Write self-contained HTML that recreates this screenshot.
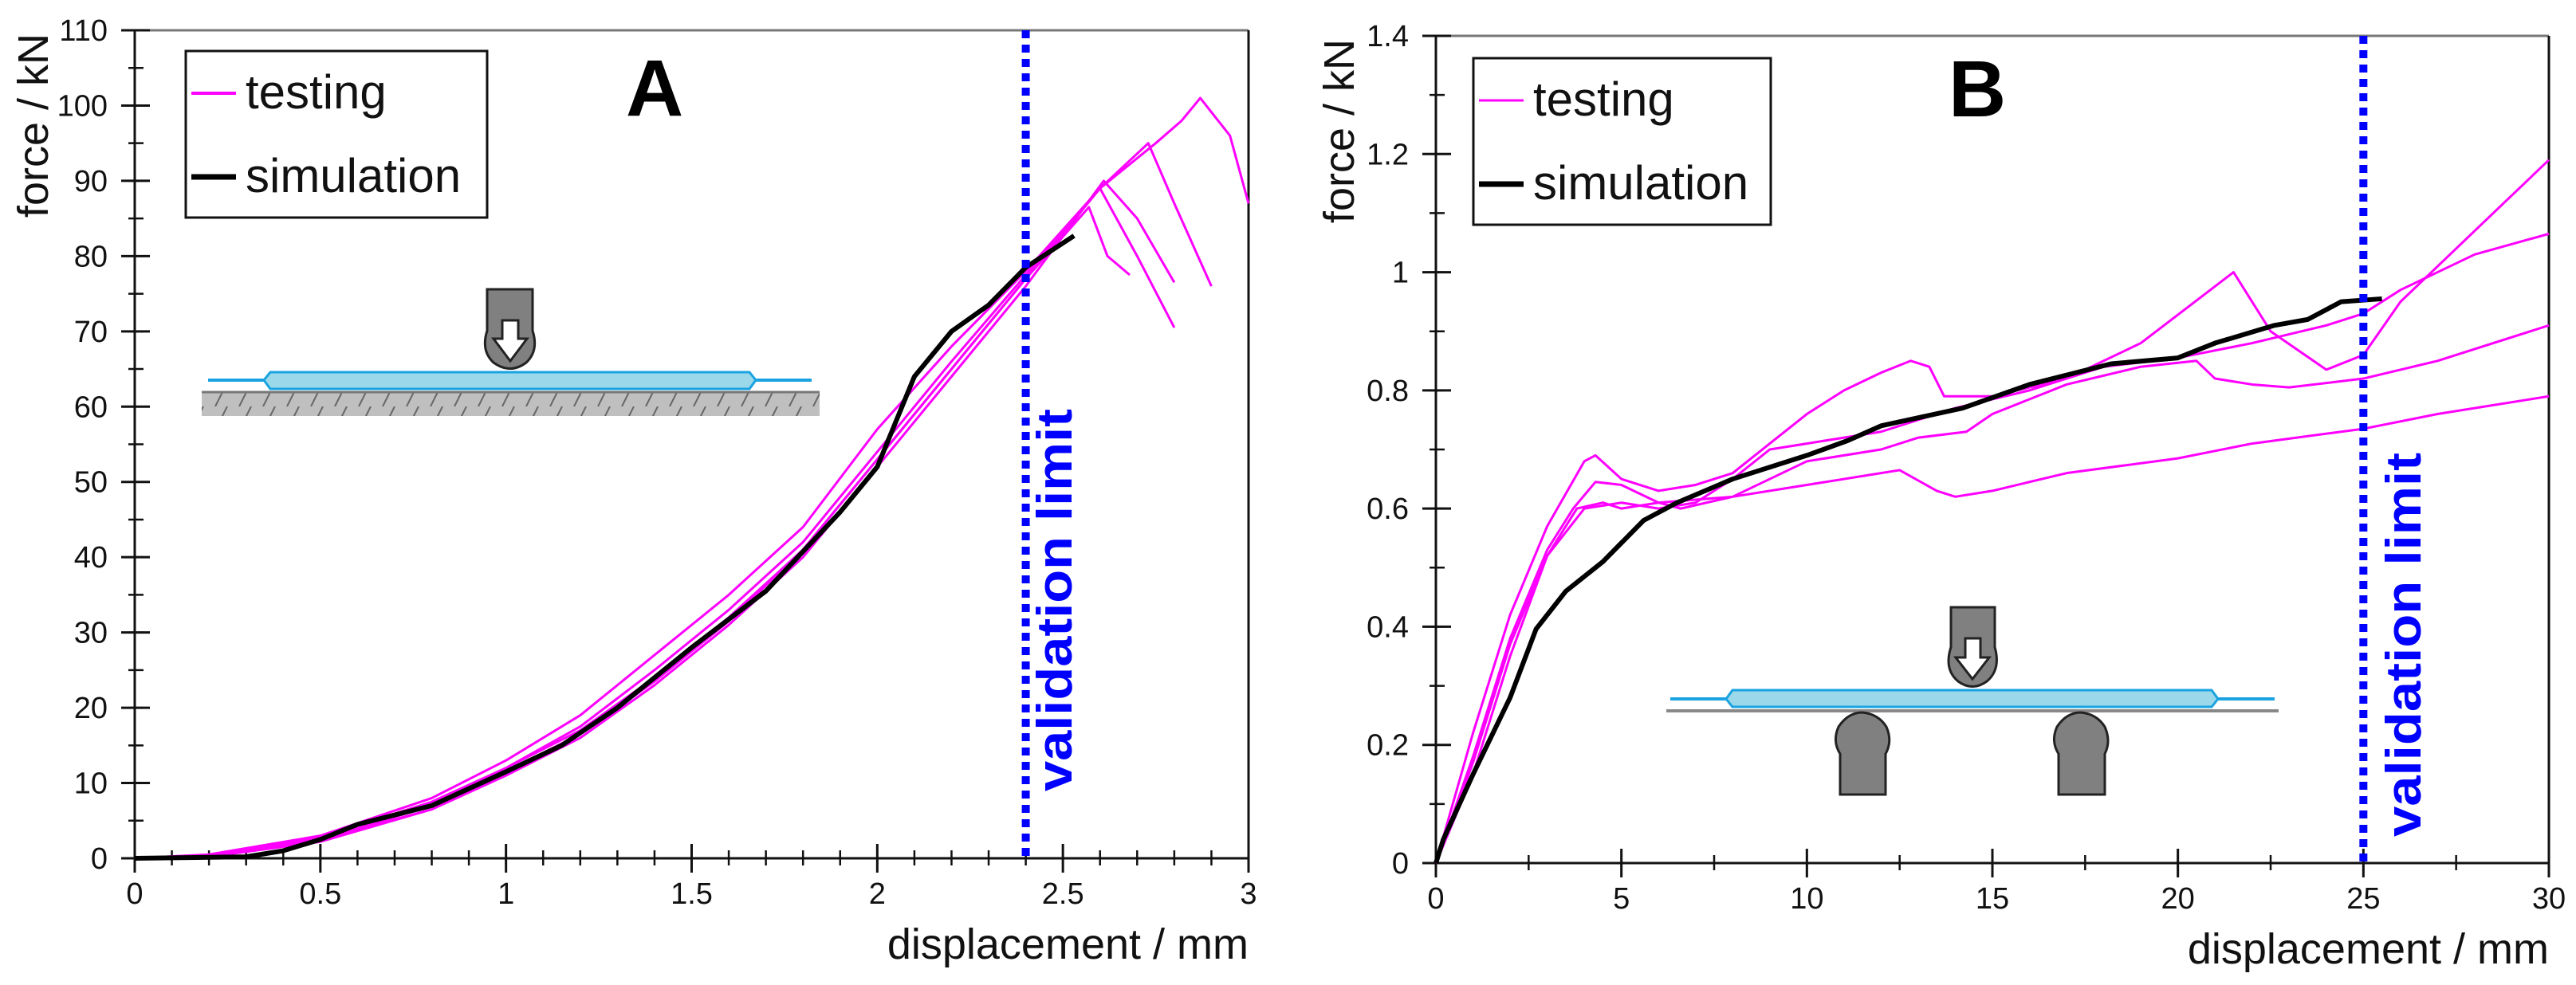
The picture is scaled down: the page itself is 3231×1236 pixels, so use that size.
<!DOCTYPE html>
<html><head><meta charset="utf-8">
<style>
html,body{margin:0;padding:0;background:#fff;}
svg{display:block;font-family:"Liberation Sans",Arial,sans-serif;}
</style></head>
<body>
<svg id="chart" width="3231" height="1236" viewBox="0 0 3231 1236" xmlns="http://www.w3.org/2000/svg">
<defs>
<pattern id="hatch" width="30" height="30" patternUnits="userSpaceOnUse">
<rect width="30" height="30" fill="#bfbfbf"/>
<line x1="0" y1="30" x2="15" y2="0" stroke="#666" stroke-width="2"/>
<line x1="30" y1="30" x2="45" y2="0" stroke="#666" stroke-width="2"/>
</pattern>
</defs>
<g id="schemA">
<rect x="253" y="492" width="775" height="30" fill="url(#hatch)"/>
<line x1="253" y1="492" x2="1028" y2="492" stroke="#777" stroke-width="3"/>
<line x1="261" y1="477" x2="1018" y2="477" stroke="#1aa3e0" stroke-width="4"/>
<polygon points="339,467 940,467 948,477 940,488 339,488 331,477" fill="#9ad8ea" stroke="#1aa3e0" stroke-width="3"/>
<path d="M611,363 H668 V415 Q676,440 660,455 Q640,470 619,455 Q603,440 611,415 Z" fill="#808080" stroke="#222" stroke-width="3"/>
<polygon points="630,402 650,402 650,425 661,425 640,453 619,425 630,425" fill="#fff" stroke="#222" stroke-width="3"/>
</g>
<g id="schemB">
<line x1="2090" y1="892" x2="2858" y2="892" stroke="#888" stroke-width="4"/>
<line x1="2095" y1="877" x2="2853" y2="877" stroke="#1aa3e0" stroke-width="4"/>
<polygon points="2173,866 2774,866 2782,877 2774,887 2173,887 2165,877" fill="#9ad8ea" stroke="#1aa3e0" stroke-width="3"/>
<path d="M2447,762 H2502 V812 Q2510,840 2492,855 Q2474,868 2456,855 Q2438,840 2447,812 Z" fill="#808080" stroke="#222" stroke-width="3"/>
<polygon points="2465,801 2484,801 2484,825 2495,825 2474,852 2453,825 2465,825" fill="#fff" stroke="#222" stroke-width="3"/>
<path d="M2308,997 V946 Q2298,930 2306,912 Q2318,894 2336,894 Q2356,896 2366,912 Q2374,930 2365,946 V997 Z" fill="#808080" stroke="#222" stroke-width="3"/>
<path d="M2582,997 V946 Q2572,930 2580,912 Q2592,894 2610,894 Q2630,896 2640,912 Q2648,930 2640,946 V997 Z" fill="#808080" stroke="#222" stroke-width="3"/>
</g>
</svg>
<script>
// ---------- Chart A data ----------
const aXTicks = [0, 0.5, 1, 1.5, 2, 2.5, 3];
const aXTickLabels = ["0", "0.5", "1", "1.5", "2", "2.5", "3"];
const aYTicks = [0, 10, 20, 30, 40, 50, 60, 70, 80, 90, 100, 110];
const aYTickLabels = ["0","10","20","30","40","50","60","70","80","90","100","110"];
const aSimX = [0, 0.3, 0.4, 0.5, 0.6, 0.8, 1.0, 1.15, 1.3, 1.5, 1.7, 1.9, 2.0, 2.1, 2.2, 2.3, 2.4, 2.53];
const aSimY = [0, 0.2, 1, 2.5, 4.5, 7, 11.5, 15, 20, 28, 35.5, 46, 52, 64, 70, 73.5, 78.5, 82.7];
const aT1X = [0, 0.2, 0.5, 0.8, 1.0, 1.2, 1.4, 1.6, 1.8, 2.0, 2.2, 2.4, 2.6, 2.75, 2.82, 2.87, 2.95, 3.0];
const aT1Y = [0, 0.5, 3, 8, 13, 19, 27, 35, 44, 57, 68, 78, 89, 95, 98, 101, 96, 87];
const aT2X = [0, 0.2, 0.5, 0.8, 1.0, 1.2, 1.4, 1.6, 1.8, 2.0, 2.2, 2.4, 2.6, 2.73, 2.8, 2.9];
const aT2Y = [0, 0.3, 2.5, 7, 12, 17, 24, 32, 41, 53, 65, 77, 89, 95, 87, 76];
const aT3X = [0, 0.2, 0.5, 0.8, 1.0, 1.2, 1.4, 1.6, 1.8, 2.0, 2.2, 2.4, 2.61, 2.7, 2.8];
const aT3Y = [0, 0.3, 2.5, 6.5, 11, 16, 23, 31, 40, 52, 64, 76, 90, 85, 76.5];
const aT4X = [0, 0.2, 0.5, 0.8, 1.0, 1.2, 1.4, 1.6, 1.8, 2.0, 2.2, 2.4, 2.6, 2.7, 2.8];
const aT4Y = [0, 0.4, 2.8, 7.5, 12, 17.5, 25, 33, 42, 54, 66, 77.5, 89, 80, 70.5];
const aT5X = [0, 0.2, 0.5, 0.8, 1.0, 1.2, 1.4, 1.6, 1.8, 2.0, 2.2, 2.4, 2.57, 2.62, 2.68];
const aT5Y = [0, 0.2, 2.2, 6.5, 11.5, 16.5, 23.5, 31.5, 41, 53, 65, 77, 86.5, 80, 77.5];
const aLimit = 2.4;
// ---------- Chart B data ----------
const bXTicks = [0, 5, 10, 15, 20, 25, 30];
const bXTickLabels = ["0","5","10","15","20","25","30"];
const bYTicks = [0, 0.2, 0.4, 0.6, 0.8, 1.0, 1.2, 1.4];
const bYTickLabels = ["0","0.2","0.4","0.6","0.8","1","1.2","1.4"];
const bSimX = [0, 0.2, 1, 2, 2.7, 3.5, 4.5, 5.6, 6.5, 8, 10, 11.1, 12, 14.2, 16, 18.2, 20, 21, 22.6, 23.5, 24.4, 25.5];
const bSimY = [0, 0.04, 0.15, 0.28, 0.396, 0.46, 0.51, 0.58, 0.61, 0.65, 0.69, 0.715, 0.74, 0.77, 0.81, 0.845, 0.855, 0.88, 0.91, 0.92, 0.95, 0.955];
const bT1X = [0, 1, 2, 3, 4, 4.3, 5, 6, 7, 8, 9, 10, 11, 12, 12.8, 13.3, 13.7, 15, 17, 19, 21.5, 22.5, 24, 25, 26, 28, 30];
const bT1Y = [0, 0.22, 0.42, 0.57, 0.68, 0.69, 0.65, 0.63, 0.64, 0.66, 0.71, 0.76, 0.8, 0.83, 0.85, 0.84, 0.79, 0.79, 0.82, 0.88, 1.0, 0.9, 0.835, 0.86, 0.95, 1.07, 1.19];
const bT2X = [0, 1, 2, 3, 3.7, 4.3, 5, 6, 6.6, 8, 10, 12, 13, 14.3, 15, 17, 19, 20.5, 21, 22, 23, 25, 27, 30];
const bT2Y = [0, 0.18, 0.38, 0.53, 0.6, 0.645, 0.64, 0.61, 0.6, 0.62, 0.68, 0.7, 0.72, 0.73, 0.76, 0.81, 0.84, 0.85, 0.82, 0.81, 0.805, 0.82, 0.85, 0.91];
const bT3X = [0, 1, 2, 3, 4, 5, 6, 7, 8, 9, 10, 12, 14, 16, 18, 20, 22, 24, 25, 26, 27, 28, 30];
const bT3Y = [0, 0.15, 0.35, 0.52, 0.6, 0.61, 0.6, 0.61, 0.65, 0.7, 0.71, 0.73, 0.77, 0.8, 0.84, 0.855, 0.88, 0.91, 0.93, 0.97, 1.0, 1.03, 1.065];
const bT4X = [0, 1, 2, 3, 3.8, 4.5, 5, 6, 8, 10, 12, 12.5, 13.5, 14, 15, 17, 20, 22, 25, 27, 30];
const bT4Y = [0, 0.17, 0.37, 0.52, 0.6, 0.61, 0.6, 0.61, 0.62, 0.64, 0.66, 0.665, 0.63, 0.62, 0.63, 0.66, 0.685, 0.71, 0.735, 0.76, 0.79];
const bLimit = 25;

const NS = "http://www.w3.org/2000/svg";
const svg = document.getElementById('chart');
function mk(tag, attrs, parent) {
  const e = document.createElementNS(NS, tag);
  for (const k in attrs) e.setAttribute(k, attrs[k]);
  (parent || svg).appendChild(e);
  return e;
}
function scale(d0, d1, r0, r1) { return v => r0 + (v - d0) * (r1 - r0) / (d1 - d0); }

function drawChart(cfg) {
  const g = mk('g', {});
  
  
  const sx = scale(cfg.xMin, cfg.xMax, cfg.L, cfg.R);
  const sy = scale(0, cfg.yMax, cfg.B, cfg.T);
  // frame
  mk('line', {x1: cfg.L - 17, y1: cfg.T, x2: cfg.R, y2: cfg.T, stroke: '#777', 'stroke-width': 3}, g);
  mk('line', {x1: cfg.R, y1: cfg.T, x2: cfg.R, y2: cfg.B, stroke: '#111', 'stroke-width': 3}, g);
  const xa = mk('line', {x1: cfg.L - 17, y1: cfg.B, x2: cfg.R, y2: cfg.B, stroke: '#111', 'stroke-width': 3}, g);
  
  
  const ya = mk('line', {x1: cfg.L, y1: cfg.T, x2: cfg.L, y2: cfg.B + 18, stroke: '#111', 'stroke-width': 3}, g);
  
  
  // minor x ticks
  for (let v = cfg.xMin; v <= cfg.xMax + 1e-9; v += cfg.xMinor) {
    mk('line', {x1: sx(v), y1: cfg.B - 10, x2: sx(v), y2: cfg.B + 9, stroke: '#111', 'stroke-width': 2.5}, g);
  }
  cfg.xTicks.forEach((v, i) => {
    mk('line', {x1: sx(v), y1: cfg.B - 18, x2: sx(v), y2: cfg.B + 18, stroke: '#111', 'stroke-width': 3}, g);
    const t = mk('text', {x: sx(v), y: cfg.B + 57, 'font-size': 38, 'text-anchor': 'middle', fill: '#111'}, g);
    t.textContent = cfg.xLabels[i];
    
    
  });
  for (let v = 0; v <= cfg.yMax + 1e-9; v += cfg.yMinor) {
    mk('line', {x1: cfg.L - 8, y1: sy(v), x2: cfg.L + 11, y2: sy(v), stroke: '#111', 'stroke-width': 2.5}, g);
  }
  cfg.yTicks.forEach((v, i) => {
    mk('line', {x1: cfg.L - 17, y1: sy(v), x2: cfg.L + 19, y2: sy(v), stroke: '#111', 'stroke-width': 3}, g);
    const t = mk('text', {x: cfg.L - 34, y: sy(v) + 13, 'font-size': 38, 'text-anchor': 'end', fill: '#111'}, g);
    t.textContent = cfg.yLabels[i];
    
    
  });
  // series
  cfg.tests.forEach(([xs, ys]) => {
    const p = mk('polyline', {points: xs.map((x, i) => sx(x) + ',' + sy(ys[i])).join(' '), fill: 'none', stroke: '#ff00ff', 'stroke-width': 3, 'stroke-linejoin': 'round'}, g);
    
    
  });
  const s = mk('polyline', {points: cfg.simX.map((x, i) => sx(x) + ',' + sy(cfg.simY[i])).join(' '), fill: 'none', stroke: '#000', 'stroke-width': 6, 'stroke-linejoin': 'round'}, g);
  
  
  // validation limit
  const vl = mk('line', {x1: sx(cfg.limit), y1: cfg.T, x2: sx(cfg.limit), y2: cfg.B, stroke: '#0000ff', 'stroke-width': 10, 'stroke-dasharray': '10 8'}, g);
  
  
  const vt = mk('text', {transform: `translate(${cfg.vtX},${cfg.vtY}) rotate(-90)`, 'font-size': 62, 'font-weight': 'bold', fill: '#0000ff', textLength: cfg.vtLen, lengthAdjust: 'spacingAndGlyphs'}, g);
  vt.textContent = 'validation limit';
  
  
  // axis titles
  const xt = mk('text', {x: cfg.R, y: cfg.B + 126, 'font-size': 54, 'text-anchor': 'end', fill: '#111'}, g);
  xt.textContent = 'displacement / mm';
  
  
  const yt = mk('text', {transform: `translate(${cfg.ytX},${cfg.T + 4}) rotate(-90)`, 'font-size': 54, 'text-anchor': 'end', fill: '#111'}, g);
  yt.textContent = 'force / kN';
  
  
  // panel letter
  const pl = mk('text', {x: cfg.letX, y: cfg.letY, 'font-size': 100, 'font-weight': 'bold', fill: '#000'}, g);
  pl.textContent = cfg.letter;
  
  
  // legend
  const lg = mk('g', {}, g);
  
  
  const [lx, ly, lw, lh] = cfg.leg;
  mk('rect', {x: lx, y: ly, width: lw, height: lh, fill: '#fff', stroke: '#111', 'stroke-width': 3}, lg);
  const e1 = mk('line', {x1: lx + 7, y1: ly + 53, x2: lx + 63, y2: ly + 53, stroke: '#ff00ff', 'stroke-width': cfg.legMagW}, lg);
  
  
  const t1 = mk('text', {x: lx + 75, y: ly + 72, 'font-size': 60, fill: '#111'}, lg);
  t1.textContent = 'testing';
  const e2 = mk('line', {x1: lx + 7, y1: ly + 158, x2: lx + 63, y2: ly + 158, stroke: '#000', 'stroke-width': 7}, lg);
  
  
  const t2 = mk('text', {x: lx + 75, y: ly + 177, 'font-size': 60, fill: '#111'}, lg);
  t2.textContent = 'simulation';
}

drawChart({
  name: 'chart-a', letter: 'A', L: 169, R: 1566, T: 38, B: 1077,
  xMin: 0, xMax: 3, yMax: 110, xMinor: 0.1, yMinor: 5,
  xTicks: aXTicks, xLabels: aXTickLabels, yTicks: aYTicks, yLabels: aYTickLabels,
  tests: [[aT1X, aT1Y], [aT2X, aT2Y], [aT3X, aT3Y], [aT4X, aT4Y], [aT5X, aT5Y]],
  simX: aSimX, simY: aSimY, limit: aLimit,
  vtX: 1344, vtY: 993, vtLen: 480, ytX: 60, letX: 785, letY: 145,
  leg: [233, 64, 378, 209], legMagW: 4
});
drawChart({
  name: 'chart-b', letter: 'B', L: 1801, R: 3197, T: 45, B: 1083,
  xMin: 0, xMax: 30, yMax: 1.4, xMinor: 2.5, yMinor: 0.1,
  xTicks: bXTicks, xLabels: bXTickLabels, yTicks: bYTicks, yLabels: bYTickLabels,
  tests: [[bT1X, bT1Y], [bT2X, bT2Y], [bT3X, bT3Y], [bT4X, bT4Y]],
  simX: bSimX, simY: bSimY, limit: bLimit,
  vtX: 3036, vtY: 1050, vtLen: 482, ytX: 1698, letX: 2444, letY: 146,
  leg: [1848, 73, 373, 209], legMagW: 3
});
svg.appendChild(document.getElementById('schemA'));
svg.appendChild(document.getElementById('schemB'));
</script>
</body></html>
